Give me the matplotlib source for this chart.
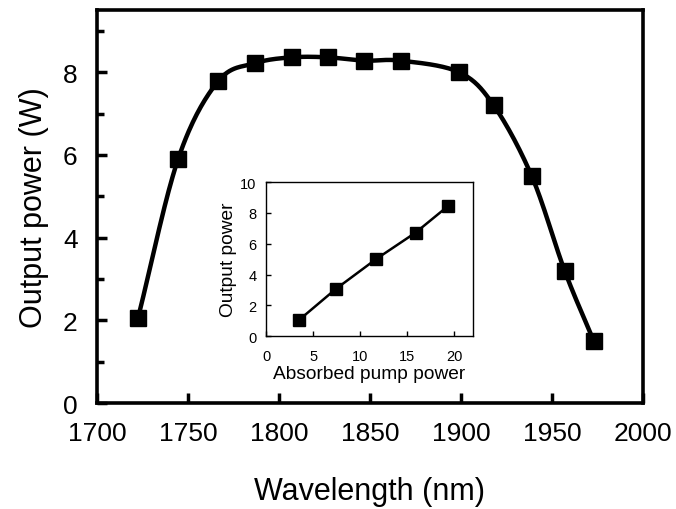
import numpy as np
import matplotlib
matplotlib.use("Agg")
import matplotlib.pyplot as plt
from matplotlib.ticker import MultipleLocator

plt.rcParams['font.family'] = ['Liberation Sans', 'DejaVu Sans']

# Main data
wavelength = [1722.5, 1744.5, 1766.5, 1787, 1807, 1827, 1847, 1867, 1899, 1918, 1939, 1957, 1973]
output_power = [2.05, 5.89, 7.78, 8.22, 8.36, 8.36, 8.28, 8.28, 8.0, 7.2, 5.48, 3.2, 1.5]

# Inset data
pump_power = [3.5, 7.4, 11.7, 15.9, 19.3]
inset_output = [1.04, 3.05, 5.0, 6.72, 8.42]


def catmull_rom(x, y, n=30):
    x = np.asarray(x, float)
    y = np.asarray(y, float)
    px = np.concatenate([[2 * x[0] - x[1]], x, [2 * x[-1] - x[-2]]])
    py = np.concatenate([[2 * y[0] - y[1]], y, [2 * y[-1] - y[-2]]])
    xs, ys = [], []
    t = np.linspace(0, 1, n, endpoint=False)
    for i in range(1, len(px) - 2):
        p0x, p1x, p2x, p3x = px[i - 1:i + 3]
        p0y, p1y, p2y, p3y = py[i - 1:i + 3]
        for (a0, a1, a2, a3, out) in ((p0x, p1x, p2x, p3x, xs), (p0y, p1y, p2y, p3y, ys)):
            out.extend(0.5 * ((2 * a1) + (-a0 + a2) * t + (2 * a0 - 5 * a1 + 4 * a2 - a3) * t ** 2
                              + (-a0 + 3 * a1 - 3 * a2 + a3) * t ** 3))
    xs.append(x[-1])
    ys.append(y[-1])
    return np.array(xs), np.array(ys)


fig = plt.figure(figsize=(6.76, 5.10), dpi=100)
ax = fig.add_axes([0.1435, 0.2078, 0.8075, 0.7702])

sx, sy = catmull_rom(wavelength, output_power)
ax.plot(sx, sy, color='black', lw=3.2, solid_capstyle='round')
ax.plot(wavelength, output_power, 's', color='black', markersize=12)

ax.set_xlim(1700, 2000)
ax.set_ylim(0, 9.5)
ax.xaxis.set_major_locator(MultipleLocator(50))
ax.yaxis.set_major_locator(MultipleLocator(2))
ax.yaxis.set_minor_locator(MultipleLocator(1))
ax.tick_params(axis='both', which='major', direction='in', length=7, width=2.5,
               labelsize=19, top=False, right=False)
ax.tick_params(axis='x', which='major', pad=13)
ax.tick_params(axis='y', which='major', pad=14)
ax.tick_params(axis='y', which='minor', direction='in', length=5, width=2.5, right=False)
for s in ax.spines.values():
    s.set_linewidth(2.6)
ax.set_xlabel('Wavelength (nm)', fontsize=22, labelpad=22)
ax.set_ylabel('Output power (W)', fontsize=22, labelpad=10)

# Inset
ins = fig.add_axes([0.3935, 0.339, 0.3062, 0.302])
ins.plot(pump_power, inset_output, '-s', color='black', lw=1.8, markersize=8.5)
ins.set_xlim(0, 22)
ins.set_ylim(0, 10)
ins.xaxis.set_major_locator(MultipleLocator(5))
ins.yaxis.set_major_locator(MultipleLocator(2))
ins.tick_params(axis='both', direction='in', length=3.5, width=1, labelsize=10.5,
                top=False, right=False)
ins.tick_params(axis='x', pad=9)
ins.tick_params(axis='y', pad=7)
for s in ins.spines.values():
    s.set_linewidth(1.0)
ins.set_xlabel('Absorbed pump power', fontsize=13.8, labelpad=2)
ins.set_ylabel('Output power', fontsize=13.8, labelpad=2)

fig.savefig('out.png', dpi=100)
